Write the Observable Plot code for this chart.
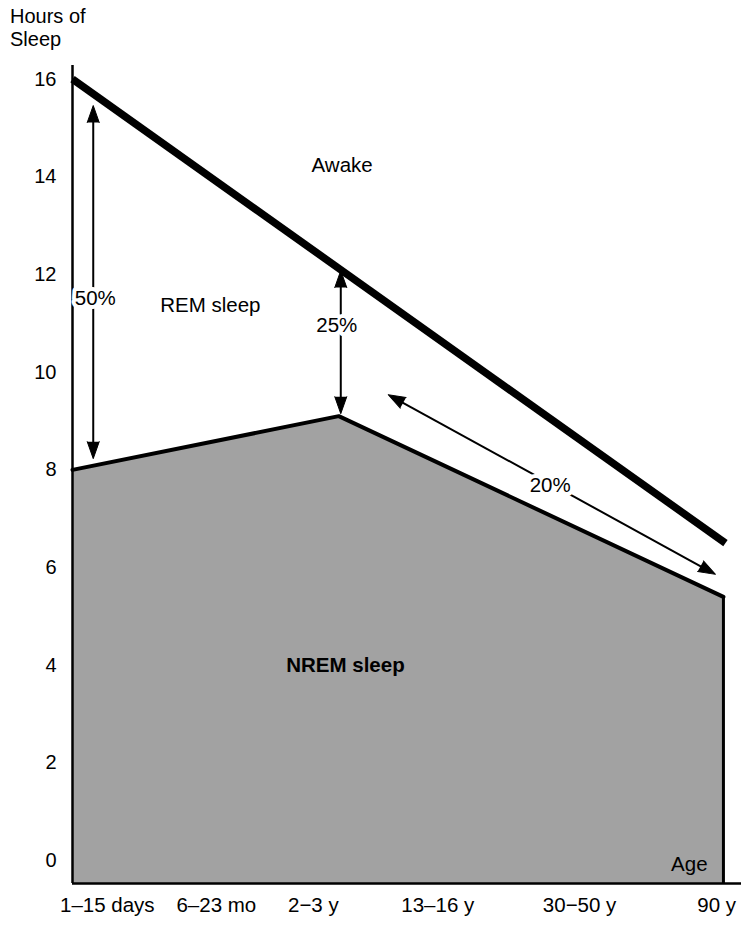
<!DOCTYPE html>
<html><head><meta charset="utf-8">
<script src="https://cdn.jsdelivr.net/npm/d3@7"></script>
<script src="https://cdn.jsdelivr.net/npm/@observablehq/plot@0.6"></script>
<style>
body{margin:0;background:#fff;}
#wrap{position:relative;width:741px;height:925px;}
#title{position:absolute;left:10px;top:5px;font:20px "Liberation Sans",Arial,sans-serif;line-height:23px;color:#000;}
</style></head><body>
<div id="wrap"><div id="title">Hours of<br>Sleep</div><div id="chart"></div></div>
<script>
// ---- data ----
const ageTickPositions = [0.52, 2.15, 3.60, 5.46, 7.58, 9.63];
const ageTickLabels = ["1\u201315 days", "6\u201323 mo", "2\u22123 y", "13\u201316 y", "30\u221250 y", "90 y"];
const hourTicks = [0, 2, 4, 6, 8, 10, 12, 14, 16];
const yMin = -0.47, yMax = 16.28;

const totalSleepX = [0, 9.76];
const totalSleepHours = [16, 6.5];
const nremX = [0, 3.98, 9.73];
const nremHours = [8, 9.1, 5.4];

const arrowX1 = [0.31, 4.01, 4.72];
const arrowY1 = [15.46, 12.08, 9.54];
const arrowX2 = [0.31, 4.01, 9.61];
const arrowY2 = [8.23, 9.15, 5.86];

const labelText = ["Awake", "REM sleep", "50%", "25%", "20%"];
const labelX = [4.03, 2.06, 0.34, 3.95, 7.14];
const labelY = [14.23, 11.36, 11.51, 10.95, 7.68];
const nremLabel = {text: "NREM sleep", x: 4.08, y: 3.99};
const ageLabel = {text: "Age", x: 9.22, y: -0.08};

// ---- build tables ----
const totalSleep = totalSleepX.map((x, i) => ({x, y: totalSleepHours[i]}));
const nrem = nremX.map((x, i) => ({x, y: nremHours[i]}));
const labels = labelText.map((t, i) => ({t, x: labelX[i], y: labelY[i]}));
const tickMap = new Map(ageTickPositions.map((p, i) => [p, ageTickLabels[i]]));

const W = 741, H = 925, mL = 72, mR = 0, mT = 65, mB = 42;
const xs = d3.scaleLinear([0, 10], [mL, W - mR]);
const ys = d3.scaleLinear([yMin, yMax], [H - mB, mT]);
const headLen = 17, shorten = 8;
const shafts = [], heads = [];
arrowX1.forEach((_, i) => {
  const p1 = [xs(arrowX1[i]), ys(arrowY1[i])], p2 = [xs(arrowX2[i]), ys(arrowY2[i])];
  const dx = p2[0] - p1[0], dy = p2[1] - p1[1], L = Math.hypot(dx, dy);
  const ux = dx / L, uy = dy / L;
  shafts.push({
    x1: xs.invert(p1[0] + ux * shorten), y1: ys.invert(p1[1] + uy * shorten),
    x2: xs.invert(p2[0] - ux * shorten), y2: ys.invert(p2[1] - uy * shorten)
  });
  const ang = Math.atan2(dx, -dy) * 180 / Math.PI;
  heads.push({x: arrowX2[i], y: arrowY2[i], r: ang});
  heads.push({x: arrowX1[i], y: arrowY1[i], r: ang + 180});
});

const font = "'Liberation Sans', Arial, sans-serif";
const chart = Plot.plot({
  width: W, height: H, marginLeft: mL, marginRight: mR, marginTop: mT, marginBottom: mB,
  x: {domain: [0, 10], label: null},
  y: {domain: [yMin, yMax], label: null},
  style: {fontFamily: font, fontSize: "20px", background: "white", color: "black"},
  marks: [
    Plot.areaY(nrem, {x: "x", y1: yMin, y2: "y", fill: "#a2a2a2"}),
    Plot.ruleX([nremX[nremX.length - 1]], {y1: yMin, y2: nremHours[nremHours.length - 1], stroke: "black", strokeWidth: 3}),
    Plot.ruleY([yMin], {stroke: "black", strokeWidth: 2.5}),
    Plot.ruleX([0], {y1: yMin, y2: yMax, stroke: "black", strokeWidth: 2.5}),
    Plot.line(nrem, {x: "x", y: "y", stroke: "black", strokeWidth: 4, strokeLinejoin: "miter"}),
    Plot.line(totalSleep, {x: "x", y: "y", stroke: "black", strokeWidth: 7.5, strokeLinecap: "butt"}),
    Plot.axisY({ticks: hourTicks, tickSize: 0, tickPadding: 16, label: null, fontSize: 20}),
    Plot.axisX({ticks: ageTickPositions, tickFormat: d => tickMap.get(d), tickSize: 0, tickPadding: 14, label: null, fontSize: 20.5}),
    Plot.link(shafts, {x1: "x1", y1: "y1", x2: "x2", y2: "y2", stroke: "black", strokeWidth: 2}),
    Plot.vector(heads, {x: "x", y: "y", rotate: "r", length: headLen, r: 6, shape: "spike", anchor: "end", fill: "black", stroke: "black", strokeWidth: 1}),
    Plot.text(labels, {x: "x", y: "y", text: "t", fontSize: 20.5, fill: "black", stroke: "white", strokeWidth: 8, paintOrder: "stroke"}),
    Plot.text([nremLabel], {x: "x", y: "y", text: "text", fontSize: 20.5, fontWeight: "bold", fill: "black"}),
    Plot.text([ageLabel], {x: "x", y: "y", text: "text", fontSize: 20.5, fill: "black"})
  ]
});
document.getElementById("chart").appendChild(chart);
</script>
</body></html>
